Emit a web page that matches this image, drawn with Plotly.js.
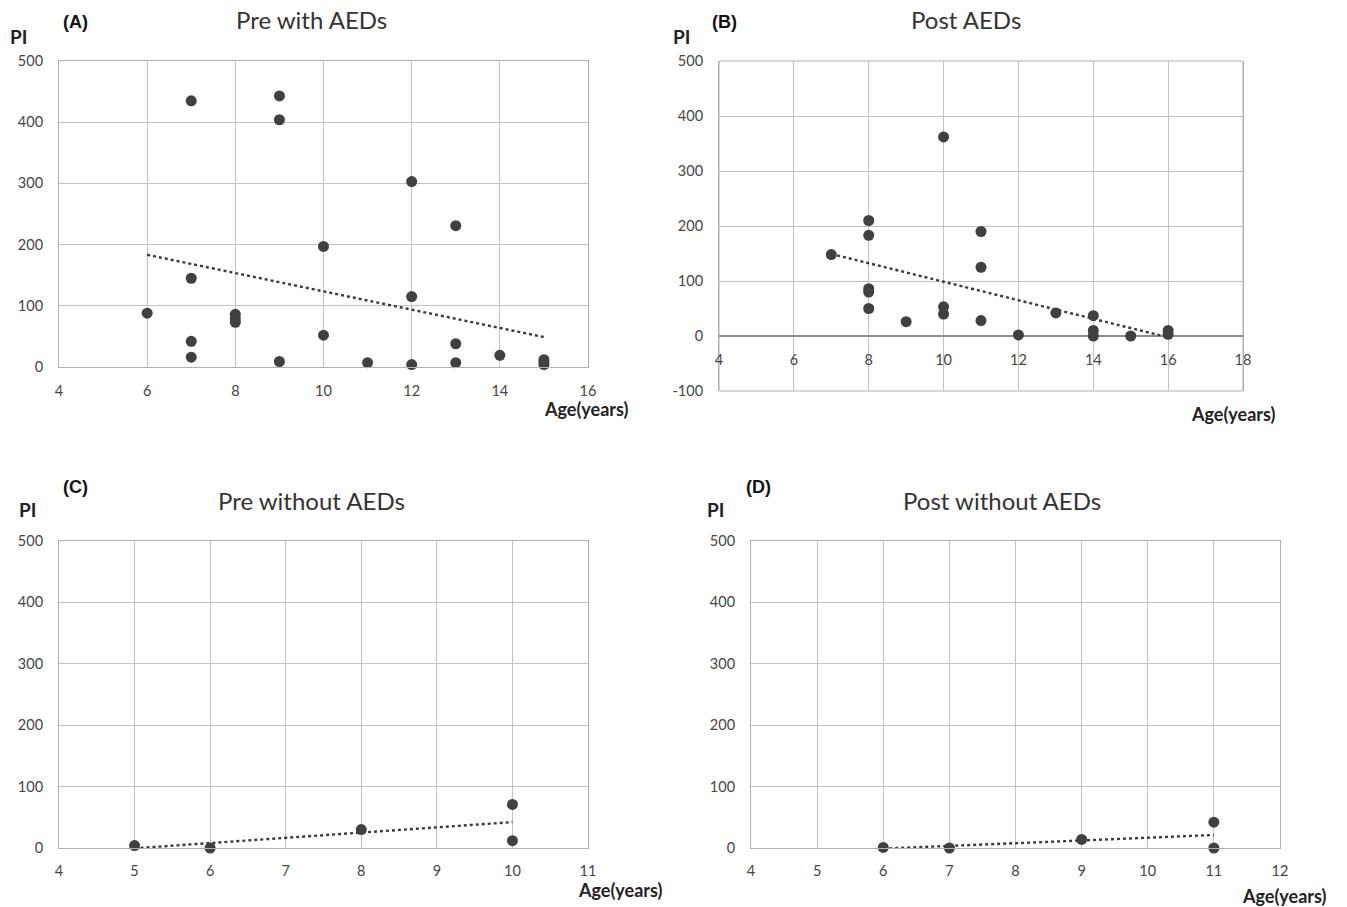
<!DOCTYPE html>
<html>
<head>
<meta charset="utf-8">
<script src="https://cdn.plot.ly/plotly-3.0.1.min.js"></script>
<style>html,body{margin:0;padding:0;background:#fff;}#chart{width:1347px;height:907px;}</style>
</head>
<body>
<div id="chart"></div>
<script>
// ---- Data ----
// (A) Pre with AEDs
const ageA = [6, 7, 7, 7, 7, 8, 8, 8, 9, 9, 9, 10, 10, 11, 12, 12, 12, 13, 13, 13, 14, 15, 15, 15];
const piA  = [88, 435, 145, 42, 16, 86, 79, 73, 443, 404, 9, 197, 52, 7, 303, 115, 4, 231, 38, 7, 19, 12, 8, 4];
// (B) Post AEDs
const ageB = [7, 8, 8, 8, 8, 8, 9, 10, 10, 10, 11, 11, 11, 12, 13, 14, 14, 14, 15, 16, 16];
const piB  = [148, 210, 183, 86, 80, 50, 26, 362, 53, 40, 190, 125, 28, 2, 42, 37, 10, 0, 0, 10, 3];
// (C) Pre without AEDs
const ageC = [5, 6, 8, 10, 10];
const piC  = [4, 0, 30, 71, 12];
// (D) Post without AEDs
const ageD = [6, 7, 9, 11, 11];
const piD  = [1, 0, 14, 42, 0];

const panelLabels = ['(A)', '(B)', '(C)', '(D)'];
const panelTitles = ['Pre with AEDs', 'Post AEDs', 'Pre without AEDs', 'Post without AEDs'];
const yLabel = 'PI';
const xLabel = 'Age(years)';
const yTicksB = [-100, 0, 100, 200, 300, 400, 500];
const yTickTextB = ['-100', '0', '100', '200', '300', '400', '500'];

// ---- helpers ----
function linFit(x, y) {
  const n = x.length;
  const mx = x.reduce((a, b) => a + b, 0) / n;
  const my = y.reduce((a, b) => a + b, 0) / n;
  let sxy = 0, sxx = 0;
  for (let i = 0; i < n; i++) { sxy += (x[i] - mx) * (y[i] - my); sxx += (x[i] - mx) * (x[i] - mx); }
  const b = sxy / sxx, a = my - b * mx;
  const x0 = Math.min(...x), x1 = Math.max(...x);
  return { x: [x0, x1], y: [a + b * x0, a + b * x1] };
}

const W = 1347, H = 907;
const px = v => v / W;
const py = v => 1 - v / H;

const markerStyle = { color: '#404040', size: 11 };
const lineStyle = { color: '#3a3a3a', width: 2.4, dash: 'dot' };

const sets = [
  { x: ageA, y: piA, xa: 'x', ya: 'y' },
  { x: ageB, y: piB, xa: 'x2', ya: 'y2' },
  { x: ageC, y: piC, xa: 'x3', ya: 'y3' },
  { x: ageD, y: piD, xa: 'x4', ya: 'y4' }
];

const traces = [];
sets.forEach(s => {
  const f = linFit(s.x, s.y);
  traces.push({ type: 'scatter', mode: 'lines', x: f.x, y: f.y, xaxis: s.xa, yaxis: s.ya,
    line: lineStyle, hoverinfo: 'skip', showlegend: false });
  traces.push({ type: 'scatter', mode: 'markers', x: s.x, y: s.y, xaxis: s.xa, yaxis: s.ya,
    marker: markerStyle, cliponaxis: false, showlegend: false });
});

const tickFont = { family: 'Lato, "Open Sans", sans-serif', size: 14.5, color: '#454545' };
const gridColor = '#c2c2c2';
const borderColor = '#b0b0b0';

function xAxis(domain, range, dtick, extra) {
  return Object.assign({
    domain: domain, range: range, dtick: dtick, tick0: range[0],
    showgrid: true, gridcolor: gridColor, gridwidth: 1,
    zeroline: false, showline: true, linecolor: borderColor, linewidth: 1, mirror: true,
    ticks: 'outside', ticklen: 10, tickcolor: 'rgba(0,0,0,0)',
    tickfont: tickFont, fixedrange: true
  }, extra || {});
}
function yAxis(domain, range, extra) {
  return Object.assign({
    domain: domain, range: range, dtick: 100, tick0: 0,
    showgrid: true, gridcolor: gridColor, gridwidth: 1,
    zeroline: true, zerolinecolor: '#8c8c8c', zerolinewidth: 1.5,
    showline: true, linecolor: borderColor, linewidth: 1, mirror: true,
    ticks: 'outside', ticklen: 12, tickcolor: 'rgba(0,0,0,0)',
    tickfont: tickFont, fixedrange: true
  }, extra || {});
}

const domA = { x: [px(59), px(588)], y: [py(367), py(61)] };
const domB = { x: [px(719), px(1243)], y: [py(391), py(61)] };
const domC = { x: [px(59), px(588)], y: [py(848), py(541)] };
const domD = { x: [px(751), px(1280)], y: [py(848), py(541)] };

const yRangeB = [-100, 500];
const zeroPosB = domB.y[0] + (0 - yRangeB[0]) / (yRangeB[1] - yRangeB[0]) * (domB.y[1] - domB.y[0]);

const layout = {
  width: W, height: H,
  margin: { l: 0, r: 0, t: 0, b: 0, pad: 0 },
  paper_bgcolor: '#ffffff', plot_bgcolor: '#ffffff',
  showlegend: false,
  xaxis:  xAxis(domA.x, [4, 16], 2, { anchor: 'y', ticklen: 11 }),
  yaxis:  yAxis(domA.y, [0, 500], { anchor: 'x' }),
  xaxis2: xAxis(domB.x, [4, 18], 2, { anchor: 'free', position: zeroPosB, showline: false, ticklen: 11 }),
  yaxis2: yAxis(domB.y, yRangeB, { anchor: 'x2', tickmode: 'array', tickvals: yTicksB, ticktext: yTickTextB }),
  xaxis3: xAxis(domC.x, [4, 11], 1, { anchor: 'y3', ticklen: 10 }),
  yaxis3: yAxis(domC.y, [0, 500], { anchor: 'x3' }),
  xaxis4: xAxis(domD.x, [4, 12], 1, { anchor: 'y4', ticklen: 10 }),
  yaxis4: yAxis(domD.y, [0, 500], { anchor: 'x4' }),
  shapes: [
    // plot-area frame for panel B (x axis is drawn at y = 0)
    { type: 'rect', xref: 'x2 domain', yref: 'y2 domain', x0: 0, x1: 1, y0: 0, y1: 1,
      line: { color: borderColor, width: 1 }, layer: 'below' }
  ],
  annotations: []
};

const labelFont = { family: 'Arial, "Liberation Sans", sans-serif', size: 18, color: '#111', weight: 'bold' };
const titleFont = { family: 'Lato, "Open Sans", sans-serif', size: 24, color: '#333' };
const piFont = { family: 'Lato, "Open Sans", sans-serif', size: 19, color: '#222', weight: 'bold' };
const ageFont = { family: 'Lato, "Open Sans", sans-serif', size: 18, color: '#222', weight: 'bold' };

const textPos = [
  { lab: [75, 22], title: [311, 20], pi: [18, 37], age: [586, 409] },
  { lab: [725, 22], title: [966, 20], pi: [681, 37], age: [1233, 414] },
  { lab: [75, 487], title: [311, 500], pi: [27, 509], age: [620, 890] },
  { lab: [758, 487], title: [1002, 500], pi: [716, 509], age: [1284, 896] }
];

function ann(text, p, font) {
  return { text: text, xref: 'paper', yref: 'paper', x: px(p[0]), y: py(p[1]),
    xanchor: 'center', yanchor: 'middle', showarrow: false, font: font };
}
textPos.forEach((t, i) => {
  layout.annotations.push(ann(panelLabels[i], t.lab, labelFont));
  layout.annotations.push(ann(panelTitles[i], t.title, titleFont));
  layout.annotations.push(ann(yLabel, t.pi, piFont));
  layout.annotations.push(ann(xLabel, t.age, ageFont));
});

Plotly.newPlot('chart', traces, layout, { displayModeBar: false, staticPlot: true });
</script>
</body>
</html>
